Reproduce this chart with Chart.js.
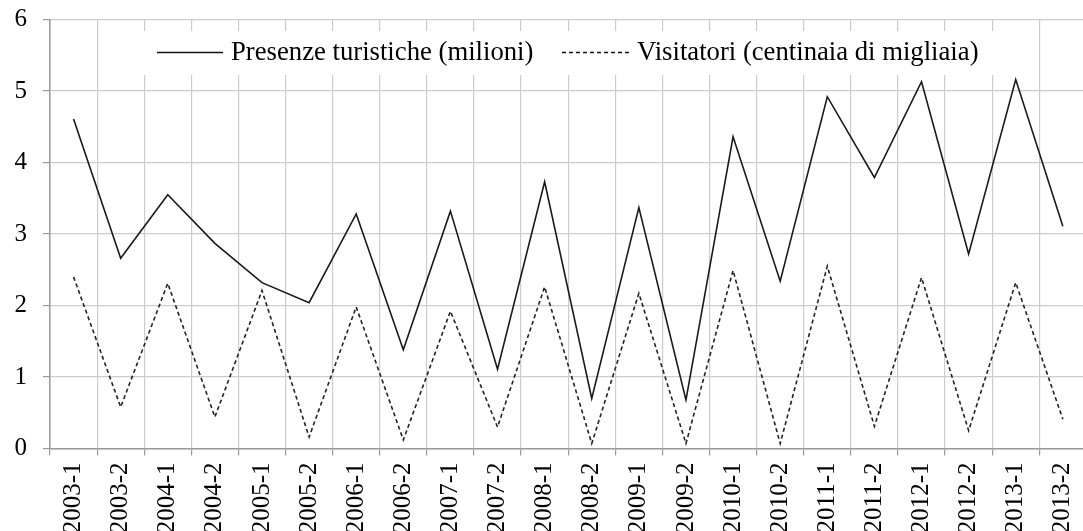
<!DOCTYPE html>
<html>
<head>
<meta charset="utf-8">
<script src="https://cdn.jsdelivr.net/npm/chart.js@4.4.0/dist/chart.umd.min.js"></script>
<style>
  body { margin: 0; overflow: hidden; background: #fff; }
  #wrap { width: 1100px; height: 531px; }
</style>
</head>
<body>
<div id="wrap"><canvas id="myChart"></canvas></div>
<script>
var periods = ["2003-1", "2003-2", "2004-1", "2004-2", "2005-1", "2005-2", "2006-1", "2006-2",
  "2007-1", "2007-2", "2008-1", "2008-2", "2009-1", "2009-2", "2010-1", "2010-2",
  "2011-1", "2011-2", "2012-1", "2012-2", "2013-1", "2013-2"];
var presenze = [4.61, 2.66, 3.55, 2.87, 2.32, 2.04, 3.28, 1.38, 3.32, 1.11, 3.73, 0.70,
  3.37, 0.68, 4.36, 2.34, 4.92, 3.79, 5.13, 2.72, 5.16, 3.11];
var visitatori = [2.40, 0.58, 2.31, 0.44, 2.21, 0.16, 1.98, 0.12, 1.92, 0.30, 2.26, 0.07,
  2.17, 0.07, 2.49, 0.07, 2.55, 0.31, 2.39, 0.25, 2.32, 0.41];
var yTicks = [0, 1, 2, 3, 4, 5, 6];

var serif = "'Liberation Serif', 'DejaVu Serif', serif";

// legend drawn inside the plot, on a white box over the grid
var innerLegend = {
  id: "innerLegend",
  beforeDatasetsDraw: function(chart) {
    var ctx = chart.ctx;
    ctx.save();
    ctx.fillStyle = "#fff";
    ctx.fillRect(143, 31, 857, 44);
    ctx.font = "26.7px " + serif;
    ctx.fillStyle = "#000";
    ctx.textBaseline = "middle";
    var items = [
      {x: 157, len: 66, dash: [], text: chart.data.datasets[0].label},
      {x: 562, len: 67, dash: [4, 3], text: chart.data.datasets[1].label}
    ];
    items.forEach(function(it) {
      ctx.strokeStyle = "#111";
      ctx.lineWidth = 1.4;
      ctx.setLineDash(it.dash);
      ctx.beginPath();
      ctx.moveTo(it.x, 52.5);
      ctx.lineTo(it.x + it.len, 52.5);
      ctx.stroke();
      ctx.setLineDash([]);
      ctx.fillText(it.text, it.x + it.len + 8, 53);
    });
    ctx.restore();
  }
};

new Chart("myChart", {
  type: "line",
  data: {
    labels: periods,
    datasets: [{
      label: "Presenze turistiche (milioni)",
      data: presenze,
      borderColor: "#1a1a1a",
      borderWidth: 1.6,
      pointRadius: 0,
      tension: 0,
      fill: false
    }, {
      label: "Visitatori (centinaia di migliaia)",
      data: visitatori,
      borderColor: "#222",
      borderWidth: 1.6,
      borderDash: [4, 3],
      pointRadius: 0,
      tension: 0,
      fill: false
    }]
  },
  options: {
    responsive: true,
    maintainAspectRatio: false,
    animation: false,
    layout: {padding: {top: 19.5, right: 7, left: 0, bottom: 0}},
    plugins: {
      legend: {display: false},
      tooltip: {enabled: false}
    },
    scales: {
      x: {
        offset: true,
        grid: {offset: true, color: "#cccccc", lineWidth: 1.2, tickLength: 7, tickColor: "#999"},
        border: {color: "#999", width: 1.5},
        ticks: {
          autoSkip: false, minRotation: 90, maxRotation: 90, padding: 7,
          color: "#000", font: {family: serif, size: 25}
        },
        afterFit: function(scale) { scale.height = 82.5; }
      },
      y: {
        min: 0, max: 6,
        afterBuildTicks: function(scale) {
          scale.ticks = yTicks.map(function(v) { return {value: v}; });
        },
        grid: {color: "#cccccc", lineWidth: 1.2, tickLength: 7, tickColor: "#999"},
        border: {color: "#999", width: 1.5},
        ticks: {padding: 16, color: "#000", font: {family: serif, size: 25}},
        afterFit: function(scale) {
          scale.width = 50;
          scale.paddingTop = 0;
          scale.paddingBottom = 0;
        }
      }
    }
  },
  plugins: [innerLegend]
});
</script>
</body>
</html>
